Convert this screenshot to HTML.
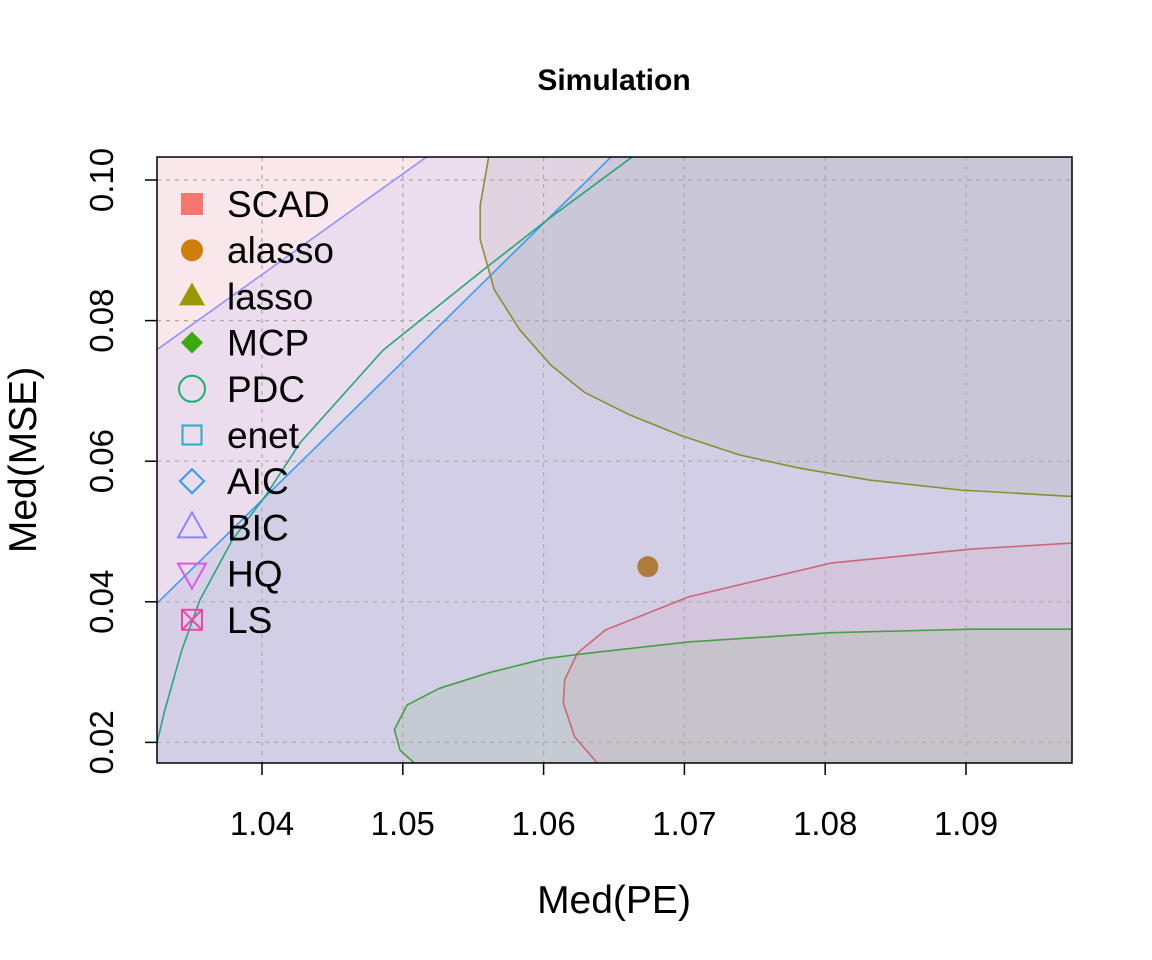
<!DOCTYPE html>
<html><head><meta charset="utf-8"><style>
body{margin:0;background:#fff;}
svg{display:block;font-family:"Liberation Sans",Arial,sans-serif;}
</style></head><body>
<svg id="chart" width="1152" height="960" viewBox="0 0 1152 960">
<defs><clipPath id="clip"><rect x="157" y="157" width="915" height="606"/></clipPath></defs>
<rect width="1152" height="960" fill="#fff"/>
<text x="614" y="90" text-anchor="middle" font-size="30" font-weight="bold">Simulation</text>
<g id="regions" clip-path="url(#clip)"></g>
<g id="grid"></g>
<g id="lines" clip-path="url(#clip)"></g>
<g id="points"></g>
<rect x="157" y="157" width="915" height="606" fill="none" stroke="#000" stroke-width="1.5"/>
<g id="axes"></g>
<g id="legend"></g>
<text x="614" y="913" text-anchor="middle" font-size="39">Med(PE)</text>
<text transform="translate(36,460) rotate(-90)" text-anchor="middle" font-size="39">Med(MSE)</text>
</svg>
<script>
const xTicks=[1.04,1.05,1.06,1.07,1.08,1.09];
const yTicks=[0.02,0.04,0.06,0.08,0.10];
const xTickLabels=["1.04","1.05","1.06","1.07","1.08","1.09"];
const yTickLabels=["0.02","0.04","0.06","0.08","0.10"];
const bicX=[1.0325,1.0517,1.11,1.11,1.03];
const bicY=[0.0758,0.1033,0.1033,0.01,0.01];
const aicX=[1.0325,1.0648,1.11,1.11,1.03];
const aicY=[0.0397,0.1033,0.1033,0.01,0.01];
const pdcX=[1.0322,1.0325,1.0331,1.0343,1.0356,1.0379,1.0404,1.0427,1.0486,1.0557,1.0605,1.0663];
const pdcY=[0.015,0.0196,0.0246,0.0331,0.0403,0.0488,0.0555,0.0626,0.0758,0.0872,0.0947,0.1033];
const lassoX=[1.0561,1.0555,1.0555,1.0565,1.0583,1.0605,1.0629,1.0661,1.0697,1.0739,1.0782,1.0832,1.0896,1.0975,1.10];
const lassoY=[0.1033,0.0964,0.0915,0.0844,0.0787,0.0737,0.0698,0.0666,0.0637,0.0609,0.0590,0.0573,0.0559,0.0550,0.0549];
const scadX=[1.0638,1.0622,1.0614,1.0615,1.0624,1.0644,1.0703,1.0804,1.0904,1.0980,1.10];
const scadY=[0.0171,0.0208,0.0256,0.0289,0.0327,0.0360,0.0407,0.0455,0.0475,0.0484,0.0485];
const mcpX=[1.0508,1.0498,1.0494,1.0503,1.0526,1.0561,1.0601,1.0628,1.0703,1.0804,1.0904,1.0980,1.10];
const mcpY=[0.0171,0.0189,0.0218,0.0253,0.0277,0.0299,0.0319,0.0326,0.0343,0.0356,0.0361,0.0361,0.0361];
const ptX=[1.0674];
const ptY=[0.0450];
const legendLabels=["SCAD","alasso","lasso","MCP","PDC","enet","AIC","BIC","HQ","LS"];

const NS="http://www.w3.org/2000/svg";
const sx=v=>262+(v-1.04)*14080;
const sy=v=>180+(0.10-v)*7030;
function mk(tag,attrs,parent){const e=document.createElementNS(NS,tag);for(const k in attrs)e.setAttribute(k,attrs[k]);parent.appendChild(e);return e;}
const R=document.getElementById('regions'),L=document.getElementById('lines'),G=document.getElementById('grid'),A=document.getElementById('axes'),P=document.getElementById('points'),LG=document.getElementById('legend');
function pts(xs,ys){return xs.map((x,i)=>sx(x).toFixed(1)+','+sy(ys[i]).toFixed(1)).join(' ');}

let bg=mk('rect',{x:157,y:157,width:915,height:606,fill:'#f9e7ec'},R);



function region(name,xs,ys,fill,closeX,closeY,stroke,lineN){
  const px=xs.concat(closeX),py=ys.concat(closeY);
  const pg=mk('polygon',{points:pts(px,py),fill:fill},R);
  
  
  const pl=mk('polyline',{points:pts(xs.slice(0,lineN),ys.slice(0,lineN)),fill:'none',stroke:stroke,'stroke-width':1.6,'stroke-linejoin':'round'},L);
  
  
}
region('bic',bicX,bicY,'rgba(149,144,255,0.12)',[],[],'#9590ff',2);
region('aic',aicX,aicY,'rgba(150,170,215,0.25)',[],[],'#3a9cf0',2);
region('pdc',pdcX,pdcY,'rgba(100,180,170,0.05)',[1.11,1.11],[0.1033,0.01],'#25a77a',pdcX.length);
region('lasso',lassoX,lassoY,'rgba(150,150,120,0.12)',[1.11,1.11],[0.055,0.11],'#8a8f30',lassoX.length);
region('scad',scadX,scadY,'rgba(248,118,109,0.08)',[1.11,1.11],[0.0485,0.01],'#cc6677',scadX.length);
region('mcp',mcpX,mcpY,'rgba(57,182,0,0.08)',[1.11,1.11],[0.0361,0.01],'#45a045',mcpX.length);

xTicks.forEach((v,i)=>{
  const g=mk('line',{x1:sx(v),x2:sx(v),y1:157,y2:763,stroke:'#aaa','stroke-dasharray':'4 5','stroke-width':1.2},G);
  
  
  const t=mk('line',{x1:sx(v),x2:sx(v),y1:763,y2:775,stroke:'#000','stroke-width':1.5},A);
  
  
  const l=mk('text',{x:sx(v),y:835,'text-anchor':'middle','font-size':33},A);
  l.textContent=xTickLabels[i];
  
  
});
yTicks.forEach((v,i)=>{
  const g=mk('line',{x1:157,x2:1072,y1:sy(v),y2:sy(v),stroke:'#aaa','stroke-dasharray':'4 5','stroke-width':1.2},G);
  
  
  const t=mk('line',{x1:145,x2:157,y1:sy(v),y2:sy(v),stroke:'#000','stroke-width':1.5},A);
  
  
  const l=mk('text',{transform:`translate(113,${sy(v)}) rotate(-90)`,'text-anchor':'middle','font-size':33},A);
  l.textContent=yTickLabels[i];
  
  
});
ptX.forEach((v,i)=>{
  const c=mk('ellipse',{cx:sx(v),cy:sy(ptY[i]),rx:10.5,ry:10.5,fill:'#b07a3a'},P);
  
  
});

const cols=['#f8766d','#cd7f0a','#9a9a00','#3aaa10','#20b070','#20b0c0','#2a9df0','#8f82ff','#e055ea','#ee44aa'];
legendLabels.forEach((lab,i)=>{
  const cy=204+i*46.2,cx=192;
  const g=mk('g',{},LG);
  
  
  const c=cols[i];
  if(i==0)mk('rect',{x:cx-11,y:cy-11,width:22,height:22,fill:c},g);
  if(i==1)mk('circle',{cx:cx,cy:cy,r:11,fill:c},g);
  if(i==2)mk('polygon',{points:`${cx},${cy-14} ${cx-13},${cy+9} ${cx+13},${cy+9}`,fill:c},g);
  if(i==3)mk('polygon',{points:`${cx},${cy-11} ${cx+11},${cy} ${cx},${cy+11} ${cx-11},${cy}`,fill:c},g);
  if(i==4)mk('circle',{cx:cx,cy:cy,r:13,fill:'none',stroke:c,'stroke-width':2},g);
  if(i==5)mk('rect',{x:cx-9.5,y:cy-9.5,width:19,height:19,fill:'none',stroke:c,'stroke-width':2},g);
  if(i==6)mk('polygon',{points:`${cx},${cy-12} ${cx+12},${cy} ${cx},${cy+12} ${cx-12},${cy}`,fill:'none',stroke:c,'stroke-width':2},g);
  if(i==7)mk('polygon',{points:`${cx},${cy-15} ${cx-14},${cy+10} ${cx+14},${cy+10}`,fill:'none',stroke:c,'stroke-width':2},g);
  if(i==8)mk('polygon',{points:`${cx},${cy+15} ${cx-14},${cy-10} ${cx+14},${cy-10}`,fill:'none',stroke:c,'stroke-width':2},g);
  if(i==9){mk('rect',{x:cx-10,y:cy-10,width:20,height:20,fill:'none',stroke:c,'stroke-width':2},g);
    mk('path',{d:`M${cx-10},${cy-10}L${cx+10},${cy+10}M${cx+10},${cy-10}L${cx-10},${cy+10}`,stroke:c,'stroke-width':2},g);}
  const t=mk('text',{x:227,y:cy+13,'font-size':37},g);
  t.textContent=lab;
});
</script>
</body></html>
